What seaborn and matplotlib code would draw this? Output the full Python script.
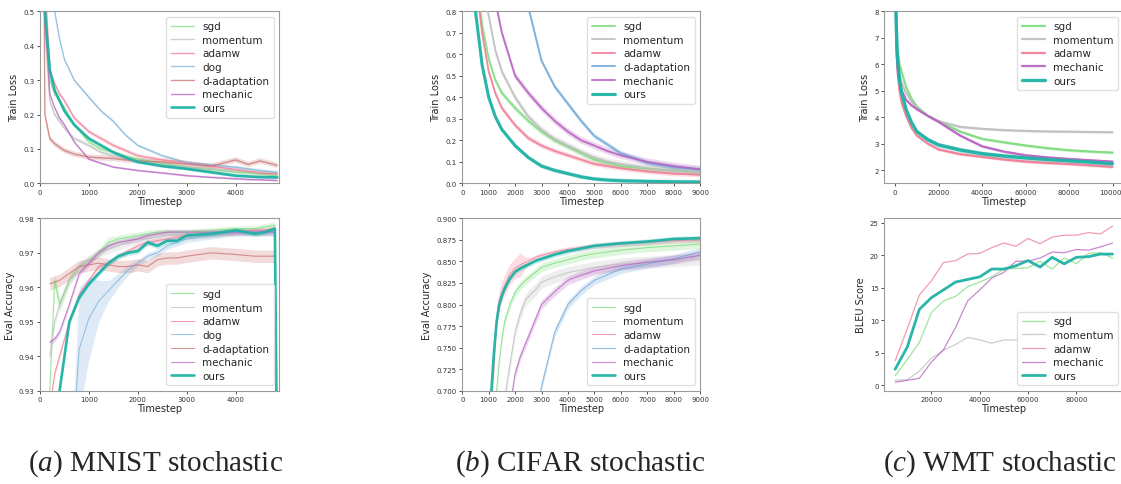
import matplotlib
matplotlib.use("Agg")
import matplotlib.pyplot as plt
import seaborn as sns
import numpy as np
import pandas as pd

nan = np.nan

# ---------------- MNIST: train loss ----------------
mnist_loss_steps = [0, 100, 200, 300, 400, 500, 700, 1000, 1250, 1500, 1750, 2000, 2500, 3000, 3500, 4000, 4250, 4500, 4850]
mnist_loss = {
    "sgd":          [2.3, 0.55, 0.30, 0.26, 0.24, 0.22, 0.17, 0.12, 0.10, 0.09, 0.08, 0.07, 0.058, 0.047, 0.040, 0.032, 0.030, 0.027, 0.022],
    "momentum":     [2.3, 0.45, 0.24, 0.20, 0.18, 0.16, 0.13, 0.11, 0.09, 0.08, 0.072, 0.066, 0.055, 0.047, 0.042, 0.037, 0.034, 0.030, 0.027],
    "adamw":        [2.3, 0.60, 0.33, 0.29, 0.26, 0.24, 0.19, 0.15, 0.13, 0.11, 0.095, 0.08, 0.068, 0.060, 0.050, 0.040, 0.035, 0.030, 0.027],
    "dog":          [2.3, 1.50, 0.80, 0.50, 0.42, 0.36, 0.30, 0.25, 0.21, 0.18, 0.14, 0.11, 0.08, 0.060, 0.053, 0.047, 0.042, 0.037, 0.032],
    "d-adaptation": [2.3, 0.20, 0.13, 0.115, 0.105, 0.095, 0.085, 0.076, 0.074, 0.072, 0.068, 0.065, 0.062, 0.056, 0.050, 0.068, 0.055, 0.065, 0.052],
    "mechanic":     [2.3, 0.50, 0.26, 0.22, 0.19, 0.17, 0.12, 0.07, 0.058, 0.047, 0.042, 0.037, 0.030, 0.022, 0.017, 0.013, 0.011, 0.010, 0.008],
    "ours":         [2.3, 0.50, 0.33, 0.27, 0.24, 0.21, 0.17, 0.13, 0.11, 0.09, 0.075, 0.062, 0.050, 0.042, 0.032, 0.022, 0.020, 0.018, 0.017],
}
mnist_loss_spread = {"sgd": 0.005, "momentum": 0.006, "adamw": 0.006, "dog": 0.004,
                     "d-adaptation": 0.008, "mechanic": 0.003, "ours": 0.005}

# ---------------- MNIST: eval accuracy ----------------
mnist_acc_steps = [200, 300, 400, 600, 800, 1000, 1200, 1400, 1600, 1800, 2000, 2200, 2400, 2600, 2800, 3000, 3500, 4000, 4400, 4600, 4800, 4850]
mnist_acc = {
    "sgd":          [0.930, 0.962, 0.955, 0.962, 0.966, 0.968, 0.970, 0.973, 0.974, 0.9745, 0.975, 0.9755, 0.976, 0.976, 0.976, 0.976, 0.9765, 0.977, 0.977, 0.9775, 0.978, nan],
    "momentum":     [0.940, 0.950, 0.955, 0.962, 0.966, 0.968, 0.970, 0.971, 0.972, 0.973, 0.974, 0.974, 0.9745, 0.975, 0.975, 0.975, 0.9755, 0.976, 0.976, 0.976, 0.976, nan],
    "adamw":        [0.925, 0.935, 0.940, 0.950, 0.958, 0.962, 0.966, 0.967, 0.969, 0.9705, 0.972, 0.973, 0.9735, 0.974, 0.9745, 0.975, 0.9755, 0.976, 0.9765, 0.9765, 0.977, nan],
    "dog":          [nan, nan, nan, 0.900, 0.942, 0.951, 0.956, 0.959, 0.962, 0.965, 0.967, 0.969, 0.970, 0.972, 0.973, 0.974, 0.975, 0.976, 0.976, 0.976, 0.976, nan],
    "d-adaptation": [0.961, 0.9615, 0.962, 0.964, 0.966, 0.9665, 0.967, 0.9665, 0.966, 0.966, 0.9665, 0.966, 0.968, 0.9685, 0.9685, 0.969, 0.970, 0.9695, 0.969, 0.969, 0.969, nan],
    "mechanic":     [0.944, 0.945, 0.947, 0.955, 0.964, 0.967, 0.970, 0.972, 0.973, 0.9735, 0.974, 0.975, 0.9755, 0.976, 0.976, 0.976, 0.976, 0.976, 0.976, 0.976, 0.976, nan],
    "ours":         [nan, 0.910, 0.930, 0.950, 0.957, 0.961, 0.964, 0.967, 0.969, 0.970, 0.9705, 0.973, 0.972, 0.9735, 0.9735, 0.975, 0.9755, 0.9765, 0.9755, 0.976, 0.977, 0.900],
}
mnist_acc_spread = {
    "sgd": [0.0, 0.002, 0.002, 0.0015, 0.001, 0.001, 0.0012, 0.0015, 0.001, 0.001, 0.001, 0.001, 0.0008, 0.0008, 0.0008, 0.0008, 0.0008, 0.0008, 0.0008, 0.001, 0.001, 0.0],
    "momentum": 0.0012,
    "adamw": 0.0008,
    "dog": [0, 0, 0, 0.0, 0.018, 0.012, 0.006, 0.003, 0.002, 0.0015, 0.001, 0.001, 0.001, 0.001, 0.001, 0.001, 0.001, 0.001, 0.001, 0.001, 0.001, 0],
    "d-adaptation": 0.0018,
    "mechanic": 0.0008,
    "ours": 0.0008,
}

# ---------------- CIFAR: train loss ----------------
cifar_loss_steps = [0, 250, 500, 750, 1000, 1250, 1500, 2000, 2500, 3000, 3500, 4000, 4500, 5000, 5500, 6000, 7000, 8000, 9000]
cifar_loss = {
    "sgd":          [2.3, 1.5, 1.0, 0.74, 0.58, 0.48, 0.42, 0.35, 0.29, 0.24, 0.20, 0.17, 0.14, 0.11, 0.095, 0.08, 0.068, 0.06, 0.05],
    "momentum":     [2.3, 1.6, 1.2, 0.90, 0.78, 0.62, 0.52, 0.40, 0.31, 0.25, 0.205, 0.175, 0.145, 0.12, 0.10, 0.09, 0.07, 0.058, 0.052],
    "adamw":        [2.3, 1.4, 0.95, 0.70, 0.52, 0.42, 0.35, 0.27, 0.21, 0.175, 0.15, 0.13, 0.11, 0.09, 0.08, 0.07, 0.055, 0.045, 0.04],
    "d-adaptation": [2.3, 2.0, 1.8, 1.6, 1.4, 1.25, 1.12, 0.98, 0.82, 0.57, 0.45, 0.37, 0.29, 0.22, 0.18, 0.14, 0.095, 0.075, 0.065],
    "mechanic":     [2.3, 1.8, 1.4, 1.1, 0.95, 0.85, 0.70, 0.50, 0.42, 0.35, 0.29, 0.24, 0.20, 0.175, 0.15, 0.13, 0.10, 0.08, 0.065],
    "ours":         [2.3, 1.2, 0.80, 0.55, 0.40, 0.31, 0.25, 0.175, 0.12, 0.08, 0.06, 0.045, 0.03, 0.02, 0.015, 0.012, 0.009, 0.007, 0.006],
}
cifar_loss_spread = {"sgd": 0.014, "momentum": 0.016, "adamw": 0.012, "d-adaptation": 0.012,
                     "mechanic": 0.016, "ours": 0.010}

# ---------------- CIFAR: eval accuracy ----------------
cifar_acc_steps = [1000, 1100, 1200, 1300, 1400, 1500, 1600, 1800, 2000, 2200, 2400, 2600, 2800, 3000, 3500, 4000, 4500, 5000, 6000, 7000, 8000, 9000]
cifar_acc = {
    "sgd":          [nan, 0.62, 0.67, 0.70, 0.735, 0.76, 0.78, 0.80, 0.814, 0.822, 0.828, 0.833, 0.838, 0.843, 0.848, 0.852, 0.856, 0.859, 0.863, 0.866, 0.868, 0.870],
    "momentum":     [nan, nan, nan, nan, 0.62, 0.65, 0.69, 0.73, 0.768, 0.79, 0.806, 0.812, 0.818, 0.826, 0.832, 0.837, 0.840, 0.843, 0.847, 0.849, 0.851, 0.853],
    "adamw":        [0.64, 0.68, 0.73, 0.785, 0.805, 0.815, 0.822, 0.835, 0.842, 0.846, 0.849, 0.852, 0.855, 0.857, 0.861, 0.864, 0.866, 0.868, 0.870, 0.872, 0.874, 0.875],
    "d-adaptation": [nan, nan, nan, nan, nan, nan, nan, nan, nan, nan, nan, nan, 0.67, 0.705, 0.768, 0.80, 0.816, 0.828, 0.841, 0.847, 0.853, 0.861],
    "mechanic":     [nan, nan, nan, nan, nan, nan, 0.62, 0.68, 0.72, 0.74, 0.755, 0.77, 0.785, 0.80, 0.815, 0.828, 0.834, 0.839, 0.845, 0.849, 0.852, 0.857],
    "ours":         [0.65, 0.70, 0.745, 0.78, 0.80, 0.81, 0.818, 0.83, 0.838, 0.842, 0.845, 0.848, 0.851, 0.853, 0.858, 0.862, 0.865, 0.868, 0.871, 0.873, 0.876, 0.877],
}
cifar_acc_spread = {
    "sgd": 0.005, "momentum": 0.007, "d-adaptation": 0.005, "mechanic": 0.005, "ours": 0.003,
    "adamw": [0.003, 0.006, 0.01, 0.012, 0.012, 0.012, 0.012, 0.012, 0.012, 0.014, 0.006, 0.003, 0.003, 0.003, 0.003, 0.003, 0.003, 0.003, 0.003, 0.003, 0.003, 0.003],
}

# ---------------- WMT: train loss ----------------
wmt_loss_steps = [0, 500, 1000, 2000, 3000, 5000, 7500, 10000, 15000, 20000, 30000, 40000, 50000, 60000, 70000, 80000, 90000, 100000]
wmt_loss = {
    "sgd":      [10.0, 7.5, 6.6, 6.0, 5.7, 5.15, 4.7, 4.4, 4.05, 3.85, 3.45, 3.18, 3.05, 2.93, 2.83, 2.75, 2.70, 2.66],
    "momentum": [10.0, 7.2, 6.2, 5.6, 5.3, 4.9, 4.6, 4.35, 4.05, 3.85, 3.63, 3.56, 3.51, 3.48, 3.46, 3.45, 3.44, 3.43],
    "adamw":    [10.0, 7.0, 5.8, 5.0, 4.55, 4.05, 3.6, 3.3, 3.0, 2.78, 2.60, 2.50, 2.40, 2.32, 2.27, 2.23, 2.18, 2.12],
    "mechanic": [10.0, 7.0, 6.0, 5.3, 5.0, 4.65, 4.45, 4.3, 4.05, 3.82, 3.30, 2.90, 2.70, 2.56, 2.48, 2.42, 2.37, 2.32],
    "ours":     [10.0, 7.5, 6.3, 5.4, 4.9, 4.3, 3.8, 3.45, 3.15, 2.95, 2.76, 2.62, 2.53, 2.46, 2.40, 2.35, 2.30, 2.24],
}
wmt_loss_spread = {"sgd": 0.05, "momentum": 0.04, "adamw": 0.05, "mechanic": 0.05, "ours": 0.09}

# ---------------- WMT: BLEU ----------------
wmt_bleu_steps = [5000, 10000, 15000, 20000, 25000, 30000, 35000, 40000, 45000, 50000,
                  55000, 60000, 65000, 70000, 75000, 80000, 85000, 90000, 95000]
wmt_bleu = {
    "sgd":      [1.5, 4.0, 6.6, 11.2, 13.0, 13.7, 15.2, 15.9, 16.7, 17.9, 18.0, 18.1, 19.1, 17.9, 19.6, 18.7, 20.3, 20.4, 19.6],
    "momentum": [0.8, 0.9, 2.2, 4.2, 5.4, 6.3, 7.4, 7.0, 6.5, 7.0, 7.0, 7.9, 8.2, 7.4, 8.2, 8.3, 8.4, 8.2, 7.8],
    "adamw":    [3.8, 8.7, 13.9, 16.1, 18.9, 19.2, 20.2, 20.3, 21.2, 21.9, 21.4, 22.6, 21.8, 22.8, 23.1, 23.1, 23.5, 23.3, 24.5],
    "mechanic": [0.5, 0.8, 1.1, 3.6, 5.5, 8.9, 13.0, 14.7, 16.5, 17.4, 19.1, 19.1, 19.6, 20.5, 20.4, 20.9, 20.8, 21.3, 21.9],
    "ours":     [2.5, 5.9, 11.7, 13.5, 14.7, 15.9, 16.3, 16.7, 17.9, 17.9, 18.4, 19.2, 18.2, 19.7, 18.7, 19.7, 19.8, 20.2, 20.2],
}

captions = [("a", "MNIST stochastic"), ("b", "CIFAR stochastic"), ("c", "WMT stochastic")]

palette = {
    "sgd": "#7ddc7d",
    "momentum": "#bdbdbd",
    "adamw": "#f07a93",
    "dog": "#7fb3dc",
    "d-adaptation": "#6ea8d8",
    "mechanic": "#b660c0",
    "ours": "#1fb2a6",
}
mnist_palette = dict(palette, **{"d-adaptation": "#c97070"})

sns.set_style("white")
plt.rcParams["font.family"] = ["DejaVu Sans"]
plt.rcParams["mathtext.fontset"] = "custom"
plt.rcParams["mathtext.rm"] = "Liberation Serif"
plt.rcParams["mathtext.it"] = "Liberation Serif:italic"


def draw(ax, steps, series, spread, colors, lw=0.9, alpha=0.75, ours_lw=1.9, band_alpha=0.25):
    for name, vals in series.items():
        sp = spread.get(name, 0.0) if spread else 0.0
        sp = np.broadcast_to(np.asarray(sp, float), len(steps))
        df = pd.DataFrame({"step": steps, "val": vals, "sp": sp}).dropna()
        c = colors[name]
        is_ours = name == "ours"
        sns.lineplot(data=df, x="step", y="val", ax=ax, color=c,
                     lw=ours_lw if is_ours else lw, alpha=0.95 if is_ours else alpha,
                     label=name, zorder=5 if is_ours else 3)
        if spread:
            ax.fill_between(df["step"], df["val"] - df["sp"], df["val"] + df["sp"],
                            color=c, alpha=band_alpha, lw=0, zorder=2)


def style(ax, ylabel, loc):
    ax.set_xlabel("Timestep", fontsize=7, labelpad=0.5)
    ax.set_ylabel(ylabel, fontsize=7, labelpad=3)
    ax.tick_params(axis="both", labelsize=5, length=2.5, width=0.6, pad=1.5,
                   bottom=True, left=True, colors="#333333")
    for s in ax.spines.values():
        s.set_color("#9a9a9a")
        s.set_linewidth(0.8)
    ax.legend(loc=loc, fontsize=7.5, labelspacing=0.35, handlelength=2.2,
              borderpad=0.45, framealpha=0.9, edgecolor="#dddddd")


fig = plt.figure(figsize=(11.21, 4.85), dpi=100)
W, H = 1121, 485


def add_ax(x0, x1, y0, y1):
    return fig.add_axes([x0 / W, 1 - y1 / H, (x1 - x0) / W, (y1 - y0) / H])


# MNIST
ax = add_ax(40, 279.3, 12.3, 184.3)
draw(ax, mnist_loss_steps, mnist_loss, mnist_loss_spread, mnist_palette, lw=1.0)
ax.set_xlim(0, 4890)
ax.set_ylim(0, 0.5)
ax.set_xticks([0, 1000, 2000, 3000, 4000])
style(ax, "Train Loss", "upper right")

ax = add_ax(40, 279.3, 219.3, 391.7)
draw(ax, mnist_acc_steps, mnist_acc, mnist_acc_spread, mnist_palette, lw=0.8)
ax.set_xlim(0, 4890)
ax.set_ylim(0.93, 0.98)
ax.set_xticks([0, 1000, 2000, 3000, 4000])
style(ax, "Eval Accuracy", "lower right")

# CIFAR
ax = add_ax(462.3, 700, 12.3, 184.3)
draw(ax, cifar_loss_steps, cifar_loss, cifar_loss_spread, palette, lw=1.4, alpha=0.85, ours_lw=2.2)
ax.set_xlim(0, 9000)
ax.set_ylim(0, 0.8)
ax.set_xticks(range(0, 9001, 1000))
style(ax, "Train Loss", "upper right")

ax = add_ax(462.3, 700, 219.3, 391.7)
draw(ax, cifar_acc_steps, cifar_acc, cifar_acc_spread, palette, lw=0.8)
ax.set_xlim(0, 9000)
ax.set_ylim(0.7, 0.9)
ax.set_xticks(range(0, 9001, 1000))
style(ax, "Eval Accuracy", "lower right")

# WMT
ax = add_ax(884.3, 1123.4, 12.3, 184.3)
draw(ax, wmt_loss_steps, wmt_loss, wmt_loss_spread, palette, lw=1.6, alpha=0.9, ours_lw=2.4, band_alpha=0.35)
ax.set_xlim(-5000, 105000)
ax.set_ylim(1.5, 8)
ax.set_xticks([0, 20000, 40000, 60000, 80000, 100000])
style(ax, "Train Loss", "upper right")

ax = add_ax(884.3, 1123.4, 219.3, 391.7)
draw(ax, wmt_bleu_steps, wmt_bleu, None, palette, lw=0.9, ours_lw=2.0)
ax.set_xlim(500, 99500)
ax.set_ylim(-0.8, 25.7)
ax.set_xticks([20000, 40000, 60000, 80000])
ax.set_yticks([0, 5, 10, 15, 20, 25])
style(ax, "BLEU Score", "lower right")

# captions
for (letter, text), cx in zip(captions, [156, 580, 1000]):
    fig.text(cx / W, 1 - 464 / H, rf"$(\mathit{{{letter}}})$ {text}", ha="center", va="center",
             fontsize=21, family="Liberation Serif")

fig.savefig("out.png", dpi=100)
